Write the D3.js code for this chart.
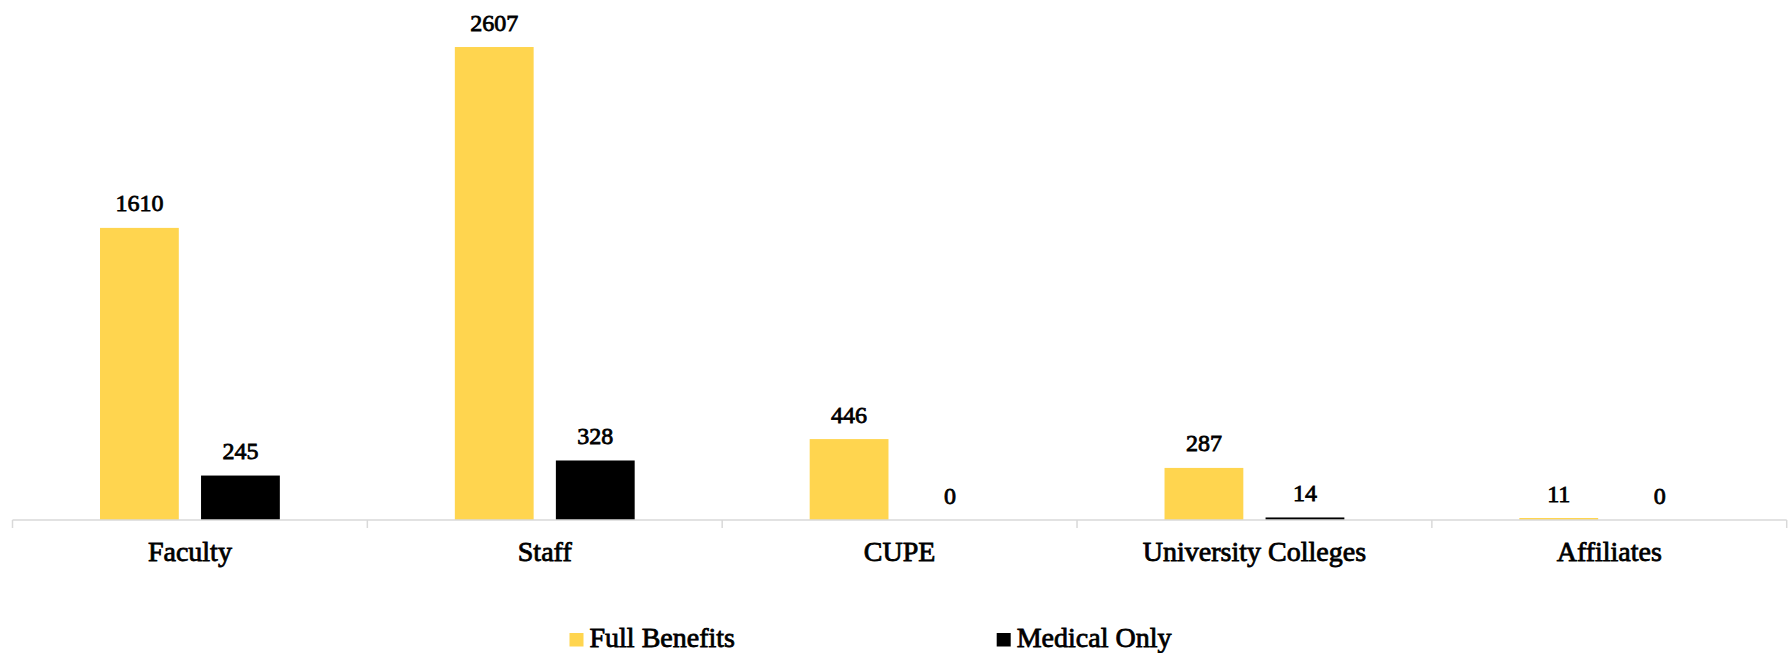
<!DOCTYPE html>
<html>
<head>
<meta charset="utf-8">
<script src="https://cdn.jsdelivr.net/npm/d3@7"></script>
<style>
  html, body { margin: 0; padding: 0; background: #ffffff; }
  svg { display: block; }
  text { font-family: "Liberation Serif", "DejaVu Serif", serif; fill: #000; stroke: #000; stroke-width: 0.8px; }
</style>
</head>
<body>
<svg id="chart" width="1791" height="653"></svg>
<script>
// Benefit enrolment by employee group
const categories = ["Faculty", "Staff", "CUPE", "University Colleges", "Affiliates"];
const seriesNames = ["Full Benefits", "Medical Only"];
const fullBenefits = [1610, 2607, 446, 287, 11];
const medicalOnly = [245, 328, 0, 14, 0];
const seriesColors = ["#FFD54F", "#000000"];

const seriesValues = [fullBenefits, medicalOnly];
const rows = categories.map((c, i) => ({
  category: c,
  values: seriesNames.map((s, j) => ({ series: s, value: seriesValues[j][i], idx: j }))
}));

const svg = d3.select("#chart");

const axisLeft = 12.5, axisRight = 1786.7, axisY = 520;

const x0 = d3.scaleBand()
  .domain(categories)
  .range([axisLeft, axisRight])
  .paddingInner(0)
  .paddingOuter(0);

const x1 = d3.scaleBand()
  .domain(seriesNames)
  .range([87.5, x0.bandwidth() - 87.5])
  .paddingInner(0.22)
  .paddingOuter(0);

const y = d3.scaleLinear()
  .domain([0, 2800])
  .range([axisY, axisY - 2800 * 0.18143]);

const color = d3.scaleOrdinal().domain(seriesNames).range(seriesColors);

// Bars
const groups = svg.append("g").selectAll("g")
  .data(rows)
  .join("g")
  .attr("transform", d => `translate(${x0(d.category)},0)`);

groups.selectAll("rect")
  .data(d => d.values)
  .join("rect")
  .attr("x", d => x1(d.series))
  .attr("y", d => y(d.value))
  .attr("width", x1.bandwidth())
  .attr("height", d => y(0) - y(d.value))
  .attr("fill", d => color(d.series));

// Value labels above bars
groups.selectAll("text.value")
  .data(d => d.values)
  .join("text")
  .attr("class", "value")
  .attr("x", d => x1(d.series) + x1.bandwidth() / 2)
  .attr("y", d => y(d.value) - 16.5)
  .attr("text-anchor", "middle")
  .attr("font-size", 24)
  .text(d => d.value);

// Category axis with boundary ticks
const axisG = svg.append("g");
axisG.append("line")
  .attr("x1", axisLeft).attr("x2", axisRight)
  .attr("y1", axisY).attr("y2", axisY)
  .attr("stroke", "#d9d9d9").attr("stroke-width", 1.5);

const tickXs = categories.map(c => x0(c)).concat([x0(categories[categories.length - 1]) + x0.bandwidth()]);
axisG.selectAll("line.tick")
  .data(tickXs)
  .join("line")
  .attr("class", "tick")
  .attr("x1", d => d).attr("x2", d => d)
  .attr("y1", axisY).attr("y2", axisY + 8)
  .attr("stroke", "#d9d9d9").attr("stroke-width", 1.5);

axisG.selectAll("text.cat")
  .data(categories)
  .join("text")
  .attr("class", "cat")
  .attr("x", d => x0(d) + x0.bandwidth() / 2)
  .attr("y", 561)
  .attr("text-anchor", "middle")
  .attr("font-size", 28)
  .text(d => d);

// Legend
const legendX = [569.5, 996.7];
const legend = svg.append("g").selectAll("g")
  .data(seriesNames)
  .join("g")
  .attr("transform", (d, i) => `translate(${legendX[i]},0)`);

legend.append("rect")
  .attr("x", 0).attr("y", 633)
  .attr("width", 14).attr("height", 13.5)
  .attr("fill", d => color(d));

legend.append("text")
  .attr("x", 20)
  .attr("y", 646.5)
  .attr("font-size", 28)
  .text(d => d);
</script>
</body>
</html>
